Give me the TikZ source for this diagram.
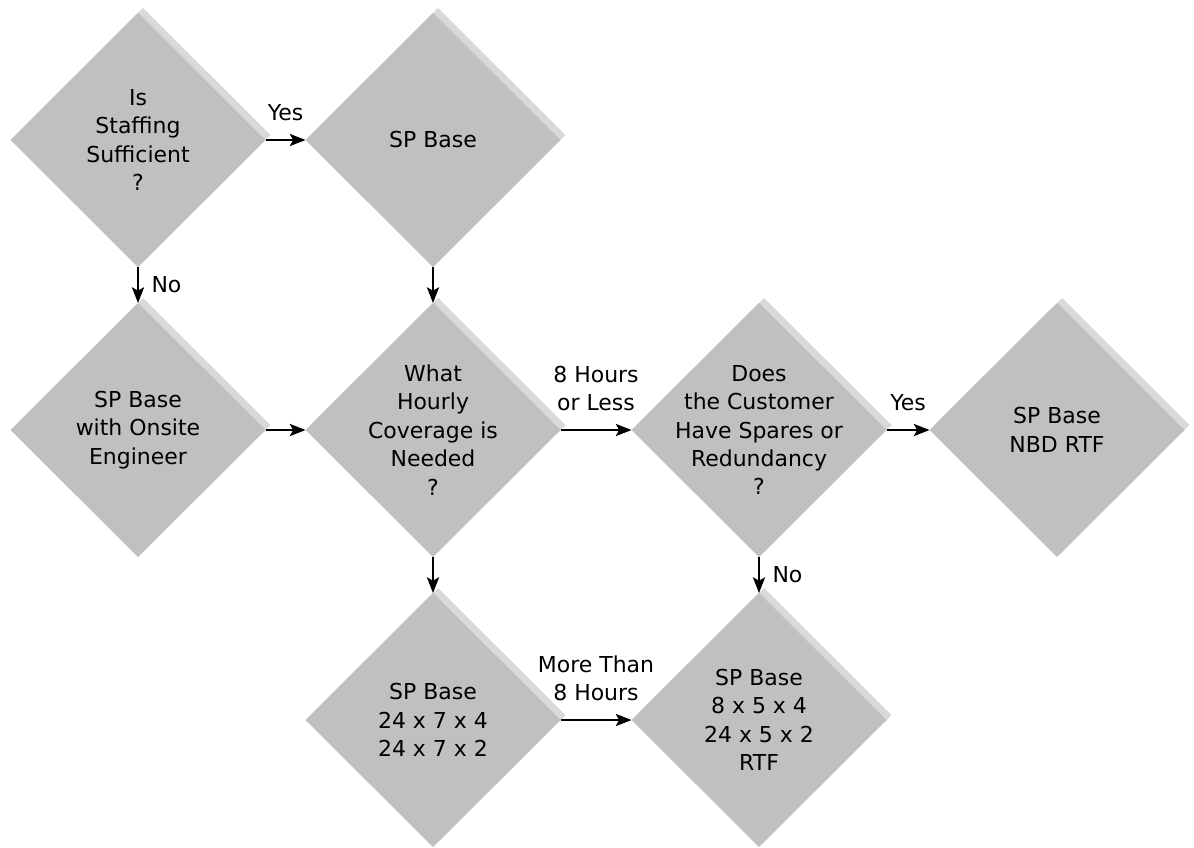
\documentclass[tikz,border=0pt]{standalone}
\usepackage{fontspec}
\setmainfont{DejaVu Sans}
\usetikzlibrary{shapes.geometric, shadows, arrows.meta}
\usepackage{xcolor}

\definecolor{boxgray}{RGB}{192,192,192}
\definecolor{shadegray}{RGB}{217,217,217}

\tikzset{
    choice/.style={diamond, fill=boxgray, minimum width=5.1cm, minimum height=5.08cm,
        inner sep=0pt, outer sep=0pt,
        general shadow={fill=shadegray, shadow xshift=0.1cm, shadow yshift=0.1cm}},
    flow/.style={-{Stealth[length=9pt, width=7pt, inset=2pt]}, line width=0.7pt},
    txt/.style={align=center, font=\fontsize{12.5}{16.2}\selectfont}
}

\begin{document}
\begin{tikzpicture}
    \def\colA{2.76}
    \def\colB{8.66}
    \def\colC{15.18}
    \def\colD{21.14}
    \def\rowA{-2.8}
    \def\rowB{-8.6}
    \def\rowC{-14.4}

    \useasboundingbox (0, 0) rectangle (23.88, -16.94);

    % top row
    \node[choice, label={[txt]center:{Is\\Staffing\\Sufficient\\?}}] (staff) at (\colA, \rowA) {};
    \node[choice, label={[txt]center:{SP Base}}] (base) at (\colB, \rowA) {};

    % middle row
    \node[choice, label={[txt]center:{SP Base\\with Onsite\\Engineer}}] (onsite) at (\colA, \rowB) {};
    \node[choice, label={[txt]center:{What\\Hourly\\Coverage is\\Needed\\?}}] (hourly) at (\colB, \rowB) {};
    \node[choice, label={[txt]center:{Does\\the Customer\\Have Spares or\\Redundancy\\?}}] (spares) at (\colC, \rowB) {};
    \node[choice, label={[txt]center:{SP Base\\NBD RTF}}] (nbd) at (\colD, \rowB) {};

    % bottom row
    \node[choice, label={[txt]center:{SP Base\\24 x 7 x 4\\24 x 7 x 2}}] (fast) at (\colB, \rowC) {};
    \node[choice, label={[txt]center:{SP Base\\8 x 5 x 4\\24 x 5 x 2\\RTF}}] (rtf) at (\colC, \rowC) {};

    \draw[flow] (staff.east) -- node[txt, above=7pt] {Yes} (base.west);
    \draw[flow] (staff.south) -- node[txt, right=4pt] {No} (onsite.north);
    \draw[flow] (base.south) -- (hourly.north);
    \draw[flow] (onsite.east) -- (hourly.west);
    \draw[flow] (hourly.east) -- node[txt, above=7pt] {8 Hours\\or Less} (spares.west);
    \draw[flow] (spares.east) -- node[txt, above=7pt] {Yes} (nbd.west);
    \draw[flow] (spares.south) -- node[txt, right=4pt] {No} (rtf.north);
    \draw[flow] (hourly.south) -- (fast.north);
    \draw[flow] (fast.east) -- node[txt, above=7pt] {More Than\\8 Hours} (rtf.west);
\end{tikzpicture}
\end{document}
